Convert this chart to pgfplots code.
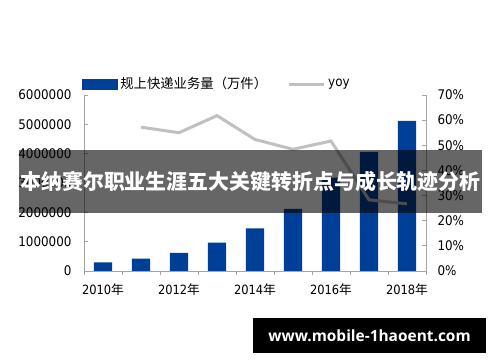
\documentclass[border=0pt]{standalone}
\usepackage{pgfplots}
\pgfplotsset{compat=1.18}
\usepackage{fontspec}
\setmainfont{DejaVu Sans Condensed}
\newfontfamily\cjk{Noto Sans CJK SC}
\newfontfamily\wmfont{Open Sans}
\definecolor{barblue}{RGB}{0,63,152}
\definecolor{yoygray}{RGB}{192,192,192}
\definecolor{axgray}{RGB}{165,165,165}
\begin{document}
\begin{tikzpicture}[x=1bp,y=1bp]
\path[use as bounding box, fill=white] (0bp,0bp) rectangle (500bp,362bp);
\pgfplotsset{
  common/.style={
    at={(84bp,91bp)}, anchor=south west, scale only axis,
    width=342bp, height=176bp,
    xmin=-0.5, xmax=8.5,
    axis line style={-, axgray, line width=0.8bp},
    tick style={axgray, line width=0.8bp},
    tick align=inside, major tick length=4bp, minor tick length=4bp,
    ticklabel style={font=\fontsize{13.3}{14}\selectfont},
    /pgf/number format/assume math mode=true,
  }
}
\begin{axis}[common,
  ymin=0, ymax=6000000,
  axis x line*=bottom, axis y line*=left,
  ytick={0,1000000,2000000,3000000,4000000,5000000,6000000},
  scaled y ticks=false,
  yticklabel style={/pgf/number format/fixed, /pgf/number format/1000 sep={}, xshift=-9bp},
  xtick={0,2,4,6,8},
  xticklabels={2010{\cjk 年},2012{\cjk 年},2014{\cjk 年},2016{\cjk 年},2018{\cjk 年}},
  xticklabel style={font=\fontsize{12.8}{14}\selectfont, yshift=-5bp},
  major x tick style={draw=none},
  minor xtick={-0.5,0.5,1.5,2.5,3.5,4.5,5.5,6.5,7.5,8.5},
  ybar, bar width=18.3bp,
]
\addplot[fill=barblue, draw=none] coordinates {
  (0,290000) (1,420000) (2,620000) (3,970000) (4,1450000)
  (5,2120000) (6,3180000) (7,4060000) (8,5120000)};
\end{axis}
\begin{axis}[common,
  ymin=0, ymax=70,
  axis y line*=right, axis x line=none,
  ytick={0,10,20,30,40,50,60,70},
  yticklabel={\pgfmathprintnumber{\tick}\%},
  yticklabel style={xshift=8bp},
  legend columns=2,
  legend style={draw=none, fill=none, inner sep=0pt, outer sep=0pt,
    at={(-0.006,1.0625)}, anchor=west,
    nodes={inner sep=0pt, anchor=west},
    column sep=3bp,
    /tikz/every even column/.append style={column sep=20bp},
    font=\cjk\fontsize{13.4}{14}\selectfont},
  legend cell align=left,
]
\addlegendimage{legend image code/.code={\fill[barblue] (0bp,-5bp) rectangle (35bp,5bp);}}
\addlegendentry{规上快递业务量（万件）}
\addplot[yoygray, line width=3bp,
  legend image code/.code={\draw[yoygray, line width=3bp] (0bp,0bp) -- (35bp,0bp);}]
  coordinates {(1,57.2) (2,55.0) (3,61.8) (4,52.3) (5,48.4) (6,51.7) (7,28.3) (8,26.7)};
\addlegendentry{{\normalfont yoy}}
\end{axis}
\fill[black, opacity=0.6] (19bp,149bp) rectangle (482bp,212bp);
\node[white, font=\cjk\bfseries\fontsize{21}{21}\selectfont, inner sep=0pt] at (250.5bp,180.5bp) {本纳赛尔职业生涯五大关键转折点与成长轨迹分析};
\fill[black] (253bp,9bp) rectangle (486bp,44bp);
\node[white, font=\wmfont\bfseries\fontsize{15.5}{16}\selectfont, inner sep=0pt] at (369.5bp,26.5bp) {www.mobile-1haoent.com};
\end{tikzpicture}
\end{document}
